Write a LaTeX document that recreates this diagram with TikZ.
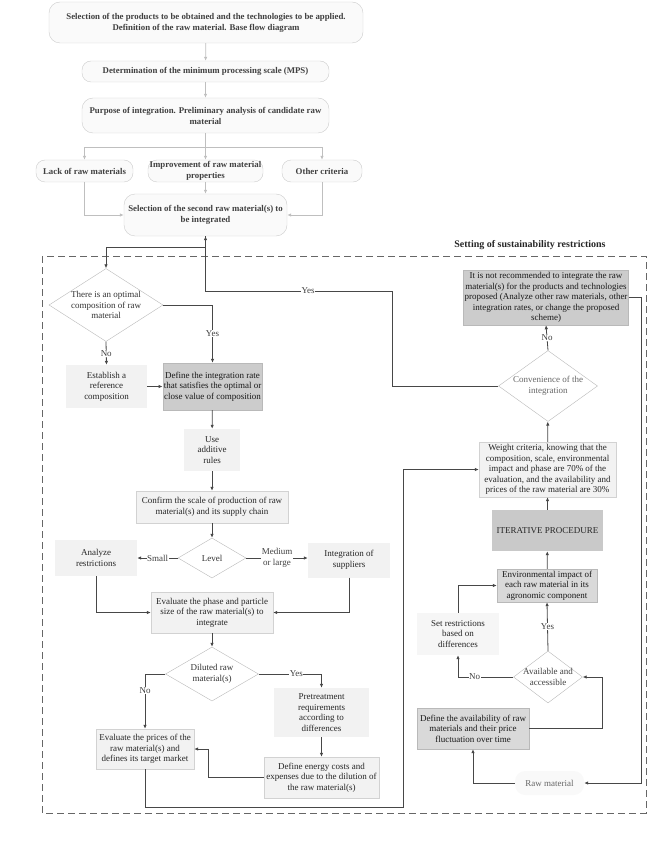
\documentclass[tikz,border=0pt]{standalone}
\usepackage{fontspec}
\setmainfont{Liberation Serif}
\usepackage{xcolor}
\usetikzlibrary{shapes.geometric,arrows.meta}

\begin{document}
\begin{tikzpicture}[x=1pt, y=-1pt, >={Latex[length=4pt,width=3.5pt]},
    every node/.style={font=\fontsize{9}{10.5}\selectfont, align=center, inner sep=1pt},
    toprnd/.style={draw=gray!40, fill=gray!4, rounded corners=11pt, text=black!75, font=\fontsize{8.8}{11}\selectfont\bfseries},
    soft/.style={fill=gray!10, text=black!85},
    softbox/.style={fill=gray!10, draw=gray!35, text=black!85},
    darkbox/.style={fill=gray!40, draw=gray!55, text=black!90},
    dec/.style={diamond, draw=gray!55, fill=white, inner sep=0pt},
    lbl/.style={fill=white, inner sep=0.5pt, text=black!75},
    tconn/.style={->, draw=gray!50, line width=0.8pt},
    conn/.style={->, draw=black!72, line width=0.8pt}]
    \useasboundingbox (0,0) rectangle (666,850);

    % Upper stage
    \node[toprnd, minimum width=314, minimum height=41] (sel) at (206,22.5) {Selection of the products to be obtained and the technologies to be applied.\\ Definition of the raw material. Base flow diagram};
    \node[toprnd, minimum width=247, minimum height=21, rounded corners=9pt] (mps) at (205.5,71.5) {Determination of the minimum processing scale (MPS)};
    \node[toprnd, minimum width=247, minimum height=35] (purp) at (205.5,115.5) {Purpose of integration. Preliminary analysis of candidate raw\\ material};
    \node[toprnd, minimum width=97, minimum height=22, rounded corners=9pt] (lack) at (84.5,171) {Lack of raw materials};
    \node[toprnd, minimum width=115, minimum height=22, rounded corners=9pt] (impr) at (205.5,171) {Improvement of raw material\\ properties};
    \node[toprnd, minimum width=80, minimum height=22, rounded corners=9pt] (other) at (322,171) {Other criteria};
    \node[toprnd, minimum width=163, minimum height=42] (second) at (205.5,215) {Selection of the second raw material(s) to\\ be integrated};

    \draw[tconn] (sel) -- (mps);
    \draw[tconn] (mps) -- (purp);
    \draw[draw=gray!50, line width=0.8pt] (purp.south) -- ++(0,14) coordinate (split);
    \draw[tconn] (split) -- (impr.north);
    \draw[tconn] (split) -| (lack.north);
    \draw[tconn] (split) -| (other.north);
    \draw[tconn] (impr) -- (second);
    \draw[tconn] (lack.south) |- (second.west);
    \draw[tconn] (other.south) |- (second.east);

    % Sustainability frame
    \draw[black!60, line width=0.9pt, dash pattern=on 7pt off 4pt] (42,256) rectangle (646,813);
    \node[font=\fontsize{10}{12}\selectfont\bfseries, text=black!85] (frame) at (530,245) {Setting of sustainability restrictions};

    % Left branch
    \node[dec, minimum width=114, minimum height=73, label={[text=black!80]center:There is an optimal\\ composition of raw\\ material}] (opt) at (106,305) {};
    \node[soft, minimum width=81, minimum height=43] (estab) at (106.5,386.5) {Establish a\\ reference\\ composition};
    \node[darkbox, minimum width=99, minimum height=47] (rate) at (212.5,386.5) {Define the integration rate\\ that satisfies the optimal or\\ close value of composition};
    \node[soft, minimum width=56, minimum height=42] (addit) at (212,450) {Use\\ additive\\ rules};
    \node[softbox, minimum width=152, minimum height=32] (scale) at (212,507) {Confirm the scale of production of raw\\ material(s) and its supply chain};
    \node[dec, minimum width=68, minimum height=40, label={[text=black!80]center:Level}] (level) at (212,558) {};
    \node[soft, minimum width=82, minimum height=36] (analyz) at (96,558) {Analyze\\ restrictions};
    \node[soft, minimum width=82, minimum height=35] (suppl) at (349,560) {Integration of\\ suppliers};
    \node[softbox, minimum width=122, minimum height=41] (phase) at (212,612.5) {Evaluate the phase and particle\\ size of the raw material(s) to\\ integrate};
    \node[dec, minimum width=93, minimum height=54, label={[text=black!80]center:Diluted raw\\ material(s)}] (dil) at (212,674) {};
    \node[soft, minimum width=95, minimum height=49] (pretr) at (321.5,712.5) {Pretreatment\\ requirements\\ according to\\ differences};
    \node[softbox, minimum width=115, minimum height=41] (energy) at (321.5,777.5) {Define energy costs and\\ expenses due to the dilution of\\ the raw material(s)};
    \node[softbox, minimum width=98, minimum height=40] (price) at (145,749) {Evaluate the prices of the\\ raw material(s) and\\ defines its target market};

    % Right branch
    \node[darkbox, minimum width=158, minimum height=55] (notrec) at (546,297.5) {It is not recommended to integrate the raw\\ material(s) for the products and technologies\\ proposed (Analyze other raw materials, other\\ integration rates, or change the proposed\\ scheme)};
    \node[dec, minimum width=99, minimum height=71, label={[text=black!60]center:Convenience of the\\ integration}] (conv) at (548,386) {};
    \node[softbox, minimum width=137, minimum height=55] (weight) at (547.5,469.5) {Weight criteria, knowing that the\\ composition, scale, environmental\\ impact and phase are 70\% of the\\ evaluation, and the availability and\\ prices of the raw material are 30\%};
    \node[fill=gray!42, minimum width=111, minimum height=41, text=black!85] (iter) at (547.5,530.5) {ITERATIVE PROCEDURE};
    \node[darkbox, fill=gray!30, minimum width=100, minimum height=33] (env) at (547,585.5) {Environmental impact of\\ each raw material in its\\ agronomic component};
    \node[dec, minimum width=69, minimum height=52, label={[text=black!75]center:Available and\\ accessible}] (avail) at (548,677) {};
    \node[soft, fill=gray!7, minimum width=82, minimum height=42] (setr) at (458,634) {Set restrictions\\ based on\\ differences};
    \node[darkbox, fill=gray!30, minimum width=112, minimum height=41] (defav) at (473,728.5) {Define the availability of raw\\ materials and their price\\ fluctuation over time};
    \node[fill=gray!5, rounded corners=10pt, minimum width=69, minimum height=24, text=black!60] (raw) at (549.5,783) {Raw material};

    % Connectors
    \coordinate (yesturn) at (392,291);
    \draw[conn] (conv.west) -| (yesturn) -- node[lbl, pos=0.45] {Yes} (yesturn -| second.south) -- (second.south);
    \draw[conn] (second.south) -- ++(0,11) -| (opt.north);
    \draw[conn] (opt.east) -| node[lbl, pos=0.75] {Yes} (rate.north);
    \draw[conn] (opt.south) -- node[lbl] {No} (estab.north);
    \draw[conn] (estab) -- (rate);
    \draw[conn] (rate) -- (addit);
    \draw[conn] (addit) -- (scale);
    \draw[conn] (scale) -- (level);
    \draw[conn] (level.west) -- node[lbl] {Small} (level.west -| analyz.east);
    \draw[conn] (level.east) -- node[lbl] {Medium\\ or large} (level.east -| suppl.west);
    \draw[conn] (analyz.south) |- (phase.west);
    \draw[conn] (suppl.south) |- (phase.east);
    \draw[conn] (phase) -- (dil);
    \draw[conn] (dil.east) -| node[lbl, pos=0.3] {Yes} (pretr.north);
    \draw[conn] (dil.west) -| node[lbl, pos=0.65] {No} (price.north);
    \draw[conn] (pretr) -- (energy);
    \draw[conn] (energy.west) -- ++(-55,0) |- (price.east);
    \draw[conn] (price.south) |- (403,807) |- (weight.west);
    \draw[conn] (iter) -- (weight);
    \draw[conn] (weight) -- (conv);
    \draw[conn] (conv.north) -- node[lbl] {No} (notrec.south);
    \draw[conn] (notrec.east) -- ++(13,0) |- (raw.east);
    \draw[conn] (raw.west) -| (defav.south);
    \draw[conn] (defav.east) -- ++(73,0) |- (avail.east);
    \draw[conn] (avail.north) -- node[lbl] {Yes} (env.south);
    \draw[conn] (avail.west) -| node[lbl, pos=0.35] {No} (setr.south);
    \draw[conn] (setr.north) |- (env.west);
    \draw[conn] (env) -- (iter);
\end{tikzpicture}
\end{document}
